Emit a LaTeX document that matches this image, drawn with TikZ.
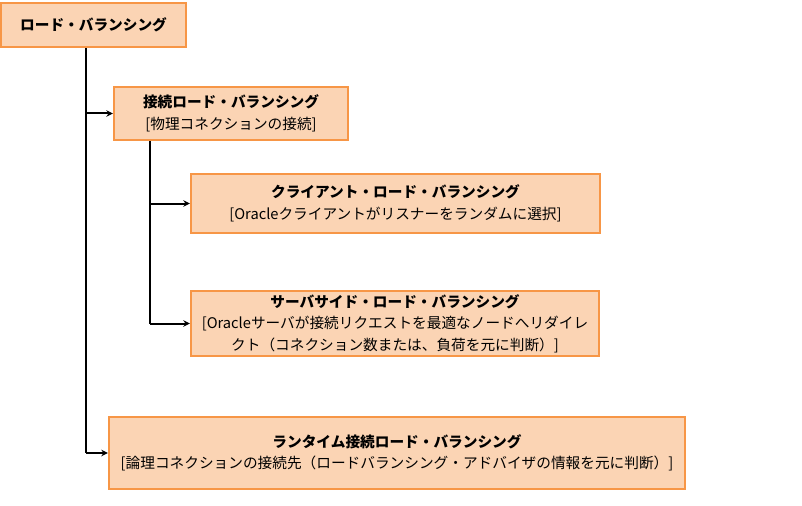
\documentclass[tikz,border=0pt]{standalone}
\usepackage{fontspec}
\setmainfont{Noto Sans CJK JP}
\usepackage{xcolor}
\usepackage{tikz}
\usetikzlibrary{arrows.meta}

\definecolor{boxfill}{HTML}{FBD4B4}
\definecolor{boxline}{HTML}{F79646}

\begin{document}
\begin{tikzpicture}[
        x=0.75pt, y=-0.75pt,
        box/.style={rectangle, draw=boxline, fill=boxfill, line width=1.6pt, align=center, font=\fontsize{11}{16.2}\selectfont, inner sep=0pt},
        link/.style={line width=1.5pt, -{Stealth[length=5pt, width=5pt]}},
        trunk/.style={line width=1.5pt},
    ]
        \useasboundingbox (0,0) rectangle (802,506);
        % Boxes
        \node[box, minimum width=138.75pt, minimum height=33pt] (lb) at (93.5,25) {\textbf{ロード・バランシング}};
        \node[box, minimum width=175.5pt, minimum height=39.75pt] (connect) at (231,113.5) {\textbf{接続ロード・バランシング}\\{[}物理コネクションの接続{]}};
        \node[box, minimum width=306.75pt, minimum height=44.25pt] (client) at (395.5,203.5) {\textbf{クライアント・ロード・バランシング}\\{[}Oracleクライアントがリスナーをランダムに選択{]}};
        \node[box, minimum width=306pt, minimum height=48.75pt] (server) at (395,323.5) {\textbf{サーバサイド・ロード・バランシング}\\{[}Oracleサーバが接続リクエストを最適なノードへリダイレ\\クト（コネクション数または、負荷を元に判断）{]}};
        \node[box, minimum width=432pt, minimum height=54pt] (runtime) at (397,453) {\textbf{ランタイム接続ロード・バランシング}\\{[}論理コネクションの接続先（ロードバランシング・アドバイザの情報を元に判断）{]}};

        % Lines
        \coordinate (stem) at (86,48);
        \coordinate (branch) at (150,140);
        \draw[trunk] (lb.south -| stem) -- (stem |- runtime.west);
        \draw[link] (stem |- connect.west) -- (connect.west);
        \draw[link] (stem |- runtime.west) -- (runtime.west);
        \draw[trunk] (connect.south -| branch) -- (branch |- server.west);
        \draw[link] (branch |- client.west) -- (client.west);
        \draw[link] (branch |- server.west) -- (server.west);
    \end{tikzpicture}
\end{document}
